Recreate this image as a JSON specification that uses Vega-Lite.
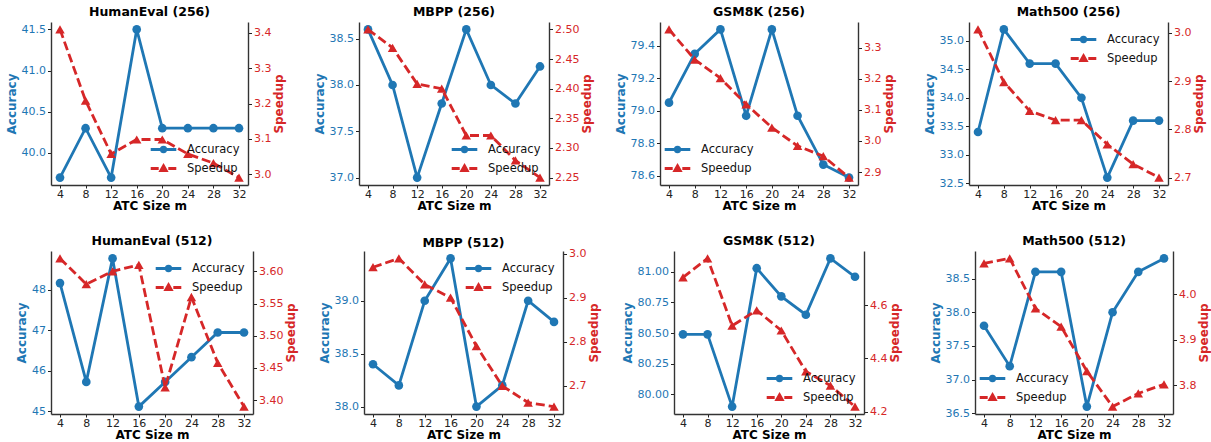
{
  "$schema": "https://vega.github.io/schema/vega-lite/v6.json",
  "padding": 5,
  "data": {"values": [
    {"p":"HumanEval (256)","m":4,"acc":39.7,"spd":3.41},
    {"p":"HumanEval (256)","m":8,"acc":40.3,"spd":3.208},
    {"p":"HumanEval (256)","m":12,"acc":39.7,"spd":3.057},
    {"p":"HumanEval (256)","m":16,"acc":41.5,"spd":3.098},
    {"p":"HumanEval (256)","m":20,"acc":40.3,"spd":3.098},
    {"p":"HumanEval (256)","m":24,"acc":40.3,"spd":3.057},
    {"p":"HumanEval (256)","m":28,"acc":40.3,"spd":3.031},
    {"p":"HumanEval (256)","m":32,"acc":40.3,"spd":2.99},
    {"p":"MBPP (256)","m":4,"acc":38.6,"spd":2.5},
    {"p":"MBPP (256)","m":8,"acc":38.0,"spd":2.469},
    {"p":"MBPP (256)","m":12,"acc":37.0,"spd":2.408},
    {"p":"MBPP (256)","m":16,"acc":37.8,"spd":2.4},
    {"p":"MBPP (256)","m":20,"acc":38.6,"spd":2.321},
    {"p":"MBPP (256)","m":24,"acc":38.0,"spd":2.321},
    {"p":"MBPP (256)","m":28,"acc":37.8,"spd":2.279},
    {"p":"MBPP (256)","m":32,"acc":38.2,"spd":2.25},
    {"p":"GSM8K (256)","m":4,"acc":79.05,"spd":3.359},
    {"p":"GSM8K (256)","m":8,"acc":79.35,"spd":3.262},
    {"p":"GSM8K (256)","m":12,"acc":79.5,"spd":3.202},
    {"p":"GSM8K (256)","m":16,"acc":78.97,"spd":3.118},
    {"p":"GSM8K (256)","m":20,"acc":79.5,"spd":3.043},
    {"p":"GSM8K (256)","m":24,"acc":78.97,"spd":2.984},
    {"p":"GSM8K (256)","m":28,"acc":78.67,"spd":2.951},
    {"p":"GSM8K (256)","m":32,"acc":78.59,"spd":2.882},
    {"p":"Math500 (256)","m":4,"acc":33.4,"spd":3.007},
    {"p":"Math500 (256)","m":8,"acc":35.2,"spd":2.898},
    {"p":"Math500 (256)","m":12,"acc":34.6,"spd":2.838},
    {"p":"Math500 (256)","m":16,"acc":34.6,"spd":2.819},
    {"p":"Math500 (256)","m":20,"acc":34.0,"spd":2.819},
    {"p":"Math500 (256)","m":24,"acc":32.6,"spd":2.769},
    {"p":"Math500 (256)","m":28,"acc":33.6,"spd":2.728},
    {"p":"Math500 (256)","m":32,"acc":33.6,"spd":2.7},
    {"p":"HumanEval (512)","m":4,"acc":48.17,"spd":3.62},
    {"p":"HumanEval (512)","m":8,"acc":45.73,"spd":3.58},
    {"p":"HumanEval (512)","m":12,"acc":48.78,"spd":3.6},
    {"p":"HumanEval (512)","m":16,"acc":45.12,"spd":3.61},
    {"p":"HumanEval (512)","m":20,"acc":45.73,"spd":3.42},
    {"p":"HumanEval (512)","m":24,"acc":46.34,"spd":3.56},
    {"p":"HumanEval (512)","m":28,"acc":46.95,"spd":3.458},
    {"p":"HumanEval (512)","m":32,"acc":46.95,"spd":3.39},
    {"p":"MBPP (512)","m":4,"acc":38.4,"spd":2.969},
    {"p":"MBPP (512)","m":8,"acc":38.2,"spd":2.989},
    {"p":"MBPP (512)","m":12,"acc":39.0,"spd":2.93},
    {"p":"MBPP (512)","m":16,"acc":39.4,"spd":2.9},
    {"p":"MBPP (512)","m":20,"acc":38.0,"spd":2.79},
    {"p":"MBPP (512)","m":24,"acc":38.2,"spd":2.7},
    {"p":"MBPP (512)","m":28,"acc":39.0,"spd":2.662},
    {"p":"MBPP (512)","m":32,"acc":38.8,"spd":2.653},
    {"p":"GSM8K (512)","m":4,"acc":80.49,"spd":4.705},
    {"p":"GSM8K (512)","m":8,"acc":80.49,"spd":4.776},
    {"p":"GSM8K (512)","m":12,"acc":79.9,"spd":4.523},
    {"p":"GSM8K (512)","m":16,"acc":81.03,"spd":4.581},
    {"p":"GSM8K (512)","m":20,"acc":80.8,"spd":4.505},
    {"p":"GSM8K (512)","m":24,"acc":80.65,"spd":4.351},
    {"p":"GSM8K (512)","m":28,"acc":81.11,"spd":4.298},
    {"p":"GSM8K (512)","m":32,"acc":80.96,"spd":4.219},
    {"p":"Math500 (512)","m":4,"acc":37.8,"spd":4.068},
    {"p":"Math500 (512)","m":8,"acc":37.2,"spd":4.079},
    {"p":"Math500 (512)","m":12,"acc":38.6,"spd":3.969},
    {"p":"Math500 (512)","m":16,"acc":38.6,"spd":3.929},
    {"p":"Math500 (512)","m":20,"acc":36.6,"spd":3.831},
    {"p":"Math500 (512)","m":24,"acc":38.0,"spd":3.753},
    {"p":"Math500 (512)","m":28,"acc":38.6,"spd":3.782},
    {"p":"Math500 (512)","m":32,"acc":38.8,"spd":3.802}
  ]},
  "spacing": 23,
  "resolve": {"scale": {"color": "independent"}, "legend": {"color": "independent"}},
  "vconcat": [
    {
      "hconcat": [
        {
          "title": "HumanEval (256)", "width": 197, "height": 163,
          "transform": [{"filter": "datum.p === 'HumanEval (256)'"}],
          "encoding": {"x": {"field": "m", "type": "quantitative", "scale": {"zero": false, "nice": false, "padding": 9}, "axis": {"values": [4,8,12,16,20,24,28,32], "title": "ATC Size m"}}},
          "layer": [
            {"mark": {"type": "line", "strokeWidth": 2.8, "point": {"filled": true, "size": 75, "opacity": 1}},
             "encoding": {
               "y": {"field": "acc", "type": "quantitative", "scale": {"zero": false, "nice": false, "padding": 7.4}, "axis": {"title": "Accuracy", "values": [40.0,40.5,41.0,41.5], "format": ".1f", "labelColor": "#1f77b4", "titleColor": "#1f77b4"}},
               "color": {"datum": "Accuracy", "type": "nominal", "scale": {"domain": ["Accuracy","Speedup"], "range": ["#1f77b4","#d62728"]},
                 "legend": {"orient": "bottom-right", "title": null, "encode": {"symbols": {"update": {"shape": {"signal": "datum.value === 'Accuracy' ? 'M-1.6,0H1.6M0.28,0A0.28,0.28 0 1,1 -0.28,0A0.28,0.28 0 1,1 0.28,0Z' : 'M-1.6,0H-0.6M-0.2,0H0.2M0.6,0H1.6M0,-0.34L0.34,0.26L-0.34,0.26Z'"}, "fill": {"signal": "datum.value === 'Accuracy' ? '#1f77b4' : '#d62728'"}, "stroke": {"signal": "datum.value === 'Accuracy' ? '#1f77b4' : '#d62728'"}, "strokeWidth": {"value": 2.8}, "size": {"value": 256}, "opacity": {"value": 1}}}}}}
             }},
            {"mark": {"type": "line", "strokeWidth": 2.8, "strokeDash": [9,4], "color": "#d62728", "point": {"filled": true, "shape": "triangle-up", "size": 90, "color": "#d62728", "opacity": 1}},
             "encoding": {
               "y": {"field": "spd", "type": "quantitative", "scale": {"zero": false, "nice": false, "padding": 7.4}, "axis": {"orient": "right", "title": "Speedup", "values": [3.0,3.1,3.2,3.3,3.4], "format": ".1f", "labelColor": "#d62728", "titleColor": "#d62728"}}
             }}
          ],
          "resolve": {"scale": {"y": "independent"}}
        },
        {
          "title": "MBPP (256)", "width": 190, "height": 163,
          "transform": [{"filter": "datum.p === 'MBPP (256)'"}],
          "encoding": {"x": {"field": "m", "type": "quantitative", "scale": {"zero": false, "nice": false, "padding": 9}, "axis": {"values": [4,8,12,16,20,24,28,32], "title": "ATC Size m"}}},
          "layer": [
            {"mark": {"type": "line", "strokeWidth": 2.8, "point": {"filled": true, "size": 75, "opacity": 1}},
             "encoding": {
               "y": {"field": "acc", "type": "quantitative", "scale": {"zero": false, "nice": false, "padding": 7.4}, "axis": {"title": "Accuracy", "values": [37.0,37.5,38.0,38.5], "format": ".1f", "labelColor": "#1f77b4", "titleColor": "#1f77b4"}},
               "color": {"datum": "Accuracy", "type": "nominal", "scale": {"domain": ["Accuracy","Speedup"], "range": ["#1f77b4","#d62728"]},
                 "legend": {"orient": "bottom-right", "title": null, "encode": {"symbols": {"update": {"shape": {"signal": "datum.value === 'Accuracy' ? 'M-1.6,0H1.6M0.28,0A0.28,0.28 0 1,1 -0.28,0A0.28,0.28 0 1,1 0.28,0Z' : 'M-1.6,0H-0.6M-0.2,0H0.2M0.6,0H1.6M0,-0.34L0.34,0.26L-0.34,0.26Z'"}, "fill": {"signal": "datum.value === 'Accuracy' ? '#1f77b4' : '#d62728'"}, "stroke": {"signal": "datum.value === 'Accuracy' ? '#1f77b4' : '#d62728'"}, "strokeWidth": {"value": 2.8}, "size": {"value": 256}, "opacity": {"value": 1}}}}}}
             }},
            {"mark": {"type": "line", "strokeWidth": 2.8, "strokeDash": [9,4], "color": "#d62728", "point": {"filled": true, "shape": "triangle-up", "size": 90, "color": "#d62728", "opacity": 1}},
             "encoding": {
               "y": {"field": "spd", "type": "quantitative", "scale": {"zero": false, "nice": false, "padding": 7.4}, "axis": {"orient": "right", "title": "Speedup", "values": [2.25,2.3,2.35,2.4,2.45,2.5], "format": ".2f", "labelColor": "#d62728", "titleColor": "#d62728"}}
             }}
          ],
          "resolve": {"scale": {"y": "independent"}}
        },
        {
          "title": "GSM8K (256)", "width": 198, "height": 163,
          "transform": [{"filter": "datum.p === 'GSM8K (256)'"}],
          "encoding": {"x": {"field": "m", "type": "quantitative", "scale": {"zero": false, "nice": false, "padding": 9}, "axis": {"values": [4,8,12,16,20,24,28,32], "title": "ATC Size m"}}},
          "layer": [
            {"mark": {"type": "line", "strokeWidth": 2.8, "point": {"filled": true, "size": 75, "opacity": 1}},
             "encoding": {
               "y": {"field": "acc", "type": "quantitative", "scale": {"zero": false, "nice": false, "padding": 7.4}, "axis": {"title": "Accuracy", "values": [78.6,78.8,79.0,79.2,79.4], "format": ".1f", "labelColor": "#1f77b4", "titleColor": "#1f77b4"}},
               "color": {"datum": "Accuracy", "type": "nominal", "scale": {"domain": ["Accuracy","Speedup"], "range": ["#1f77b4","#d62728"]},
                 "legend": {"orient": "bottom-left", "title": null, "encode": {"symbols": {"update": {"shape": {"signal": "datum.value === 'Accuracy' ? 'M-1.6,0H1.6M0.28,0A0.28,0.28 0 1,1 -0.28,0A0.28,0.28 0 1,1 0.28,0Z' : 'M-1.6,0H-0.6M-0.2,0H0.2M0.6,0H1.6M0,-0.34L0.34,0.26L-0.34,0.26Z'"}, "fill": {"signal": "datum.value === 'Accuracy' ? '#1f77b4' : '#d62728'"}, "stroke": {"signal": "datum.value === 'Accuracy' ? '#1f77b4' : '#d62728'"}, "strokeWidth": {"value": 2.8}, "size": {"value": 256}, "opacity": {"value": 1}}}}}}
             }},
            {"mark": {"type": "line", "strokeWidth": 2.8, "strokeDash": [9,4], "color": "#d62728", "point": {"filled": true, "shape": "triangle-up", "size": 90, "color": "#d62728", "opacity": 1}},
             "encoding": {
               "y": {"field": "spd", "type": "quantitative", "scale": {"zero": false, "nice": false, "padding": 7.4}, "axis": {"orient": "right", "title": "Speedup", "values": [2.9,3.0,3.1,3.2,3.3], "format": ".1f", "labelColor": "#d62728", "titleColor": "#d62728"}}
             }}
          ],
          "resolve": {"scale": {"y": "independent"}}
        },
        {
          "title": "Math500 (256)", "width": 199, "height": 163,
          "transform": [{"filter": "datum.p === 'Math500 (256)'"}],
          "encoding": {"x": {"field": "m", "type": "quantitative", "scale": {"zero": false, "nice": false, "padding": 9}, "axis": {"values": [4,8,12,16,20,24,28,32], "title": "ATC Size m"}}},
          "layer": [
            {"mark": {"type": "line", "strokeWidth": 2.8, "point": {"filled": true, "size": 75, "opacity": 1}},
             "encoding": {
               "y": {"field": "acc", "type": "quantitative", "scale": {"zero": false, "nice": false, "padding": 7.4}, "axis": {"title": "Accuracy", "values": [32.5,33.0,33.5,34.0,34.5,35.0], "format": ".1f", "labelColor": "#1f77b4", "titleColor": "#1f77b4"}},
               "color": {"datum": "Accuracy", "type": "nominal", "scale": {"domain": ["Accuracy","Speedup"], "range": ["#1f77b4","#d62728"]},
                 "legend": {"orient": "top-right", "title": null, "encode": {"symbols": {"update": {"shape": {"signal": "datum.value === 'Accuracy' ? 'M-1.6,0H1.6M0.28,0A0.28,0.28 0 1,1 -0.28,0A0.28,0.28 0 1,1 0.28,0Z' : 'M-1.6,0H-0.6M-0.2,0H0.2M0.6,0H1.6M0,-0.34L0.34,0.26L-0.34,0.26Z'"}, "fill": {"signal": "datum.value === 'Accuracy' ? '#1f77b4' : '#d62728'"}, "stroke": {"signal": "datum.value === 'Accuracy' ? '#1f77b4' : '#d62728'"}, "strokeWidth": {"value": 2.8}, "size": {"value": 256}, "opacity": {"value": 1}}}}}}
             }},
            {"mark": {"type": "line", "strokeWidth": 2.8, "strokeDash": [9,4], "color": "#d62728", "point": {"filled": true, "shape": "triangle-up", "size": 90, "color": "#d62728", "opacity": 1}},
             "encoding": {
               "y": {"field": "spd", "type": "quantitative", "scale": {"zero": false, "nice": false, "padding": 7.4}, "axis": {"orient": "right", "title": "Speedup", "values": [2.7,2.8,2.9,3.0], "format": ".1f", "labelColor": "#d62728", "titleColor": "#d62728"}}
             }}
          ],
          "resolve": {"scale": {"y": "independent"}}
        }
      ],
      "spacing": 111,
      "bounds": "flush",
      "resolve": {"scale": {"color": "independent"}, "legend": {"color": "independent"}}
    },
    {
      "hconcat": [
        {
          "title": "HumanEval (512)", "width": 202, "height": 163,
          "transform": [{"filter": "datum.p === 'HumanEval (512)'"}],
          "encoding": {"x": {"field": "m", "type": "quantitative", "scale": {"zero": false, "nice": false, "padding": 9}, "axis": {"values": [4,8,12,16,20,24,28,32], "title": "ATC Size m"}}},
          "layer": [
            {"mark": {"type": "line", "strokeWidth": 2.8, "point": {"filled": true, "size": 75, "opacity": 1}},
             "encoding": {
               "y": {"field": "acc", "type": "quantitative", "scale": {"zero": false, "nice": false, "padding": 7.4}, "axis": {"title": "Accuracy", "values": [45,46,47,48], "format": "d", "labelColor": "#1f77b4", "titleColor": "#1f77b4"}},
               "color": {"datum": "Accuracy", "type": "nominal", "scale": {"domain": ["Accuracy","Speedup"], "range": ["#1f77b4","#d62728"]},
                 "legend": {"orient": "top-right", "title": null, "encode": {"symbols": {"update": {"shape": {"signal": "datum.value === 'Accuracy' ? 'M-1.6,0H1.6M0.28,0A0.28,0.28 0 1,1 -0.28,0A0.28,0.28 0 1,1 0.28,0Z' : 'M-1.6,0H-0.6M-0.2,0H0.2M0.6,0H1.6M0,-0.34L0.34,0.26L-0.34,0.26Z'"}, "fill": {"signal": "datum.value === 'Accuracy' ? '#1f77b4' : '#d62728'"}, "stroke": {"signal": "datum.value === 'Accuracy' ? '#1f77b4' : '#d62728'"}, "strokeWidth": {"value": 2.8}, "size": {"value": 256}, "opacity": {"value": 1}}}}}}
             }},
            {"mark": {"type": "line", "strokeWidth": 2.8, "strokeDash": [9,4], "color": "#d62728", "point": {"filled": true, "shape": "triangle-up", "size": 90, "color": "#d62728", "opacity": 1}},
             "encoding": {
               "y": {"field": "spd", "type": "quantitative", "scale": {"zero": false, "nice": false, "padding": 7.4}, "axis": {"orient": "right", "title": "Speedup", "values": [3.4,3.45,3.5,3.55,3.6], "format": ".2f", "labelColor": "#d62728", "titleColor": "#d62728"}}
             }}
          ],
          "resolve": {"scale": {"y": "independent"}}
        },
        {
          "title": {"text": "MBPP (512)", "offset": -2}, "width": 199, "height": 163,
          "transform": [{"filter": "datum.p === 'MBPP (512)'"}],
          "encoding": {"x": {"field": "m", "type": "quantitative", "scale": {"zero": false, "nice": false, "padding": 9}, "axis": {"values": [4,8,12,16,20,24,28,32], "title": "ATC Size m"}}},
          "layer": [
            {"mark": {"type": "line", "strokeWidth": 2.8, "point": {"filled": true, "size": 75, "opacity": 1}},
             "encoding": {
               "y": {"field": "acc", "type": "quantitative", "scale": {"zero": false, "nice": false, "padding": 7.4}, "axis": {"title": "Accuracy", "values": [38.0,38.5,39.0], "format": ".1f", "labelColor": "#1f77b4", "titleColor": "#1f77b4"}},
               "color": {"datum": "Accuracy", "type": "nominal", "scale": {"domain": ["Accuracy","Speedup"], "range": ["#1f77b4","#d62728"]},
                 "legend": {"orient": "top-right", "title": null, "encode": {"symbols": {"update": {"shape": {"signal": "datum.value === 'Accuracy' ? 'M-1.6,0H1.6M0.28,0A0.28,0.28 0 1,1 -0.28,0A0.28,0.28 0 1,1 0.28,0Z' : 'M-1.6,0H-0.6M-0.2,0H0.2M0.6,0H1.6M0,-0.34L0.34,0.26L-0.34,0.26Z'"}, "fill": {"signal": "datum.value === 'Accuracy' ? '#1f77b4' : '#d62728'"}, "stroke": {"signal": "datum.value === 'Accuracy' ? '#1f77b4' : '#d62728'"}, "strokeWidth": {"value": 2.8}, "size": {"value": 256}, "opacity": {"value": 1}}}}}}
             }},
            {"mark": {"type": "line", "strokeWidth": 2.8, "strokeDash": [9,4], "color": "#d62728", "point": {"filled": true, "shape": "triangle-up", "size": 90, "color": "#d62728", "opacity": 1}},
             "encoding": {
               "y": {"field": "spd", "type": "quantitative", "scale": {"zero": false, "nice": false, "padding": 7.4}, "axis": {"orient": "right", "title": "Speedup", "values": [2.7,2.8,2.9,3.0], "format": ".1f", "labelColor": "#d62728", "titleColor": "#d62728"}}
             }}
          ],
          "resolve": {"scale": {"y": "independent"}}
        },
        {
          "title": "GSM8K (512)", "width": 190, "height": 163,
          "transform": [{"filter": "datum.p === 'GSM8K (512)'"}],
          "encoding": {"x": {"field": "m", "type": "quantitative", "scale": {"zero": false, "nice": false, "padding": 9}, "axis": {"values": [4,8,12,16,20,24,28,32], "title": "ATC Size m"}}},
          "layer": [
            {"mark": {"type": "line", "strokeWidth": 2.8, "point": {"filled": true, "size": 75, "opacity": 1}},
             "encoding": {
               "y": {"field": "acc", "type": "quantitative", "scale": {"zero": false, "nice": false, "padding": 7.4}, "axis": {"title": "Accuracy", "values": [80.0,80.25,80.5,80.75,81.0], "format": ".2f", "labelColor": "#1f77b4", "titleColor": "#1f77b4"}},
               "color": {"datum": "Accuracy", "type": "nominal", "scale": {"domain": ["Accuracy","Speedup"], "range": ["#1f77b4","#d62728"]},
                 "legend": {"orient": "bottom-right", "title": null, "encode": {"symbols": {"update": {"shape": {"signal": "datum.value === 'Accuracy' ? 'M-1.6,0H1.6M0.28,0A0.28,0.28 0 1,1 -0.28,0A0.28,0.28 0 1,1 0.28,0Z' : 'M-1.6,0H-0.6M-0.2,0H0.2M0.6,0H1.6M0,-0.34L0.34,0.26L-0.34,0.26Z'"}, "fill": {"signal": "datum.value === 'Accuracy' ? '#1f77b4' : '#d62728'"}, "stroke": {"signal": "datum.value === 'Accuracy' ? '#1f77b4' : '#d62728'"}, "strokeWidth": {"value": 2.8}, "size": {"value": 256}, "opacity": {"value": 1}}}}}}
             }},
            {"mark": {"type": "line", "strokeWidth": 2.8, "strokeDash": [9,4], "color": "#d62728", "point": {"filled": true, "shape": "triangle-up", "size": 90, "color": "#d62728", "opacity": 1}},
             "encoding": {
               "y": {"field": "spd", "type": "quantitative", "scale": {"zero": false, "nice": false, "padding": 7.4}, "axis": {"orient": "right", "title": "Speedup", "values": [4.2,4.4,4.6], "format": ".1f", "labelColor": "#d62728", "titleColor": "#d62728"}}
             }}
          ],
          "resolve": {"scale": {"y": "independent"}}
        },
        {
          "title": "Math500 (512)", "width": 198, "height": 163,
          "transform": [{"filter": "datum.p === 'Math500 (512)'"}],
          "encoding": {"x": {"field": "m", "type": "quantitative", "scale": {"zero": false, "nice": false, "padding": 9}, "axis": {"values": [4,8,12,16,20,24,28,32], "title": "ATC Size m"}}},
          "layer": [
            {"mark": {"type": "line", "strokeWidth": 2.8, "point": {"filled": true, "size": 75, "opacity": 1}},
             "encoding": {
               "y": {"field": "acc", "type": "quantitative", "scale": {"zero": false, "nice": false, "padding": 7.4}, "axis": {"title": "Accuracy", "values": [36.5,37.0,37.5,38.0,38.5], "format": ".1f", "labelColor": "#1f77b4", "titleColor": "#1f77b4"}},
               "color": {"datum": "Accuracy", "type": "nominal", "scale": {"domain": ["Accuracy","Speedup"], "range": ["#1f77b4","#d62728"]},
                 "legend": {"orient": "bottom-left", "title": null, "encode": {"symbols": {"update": {"shape": {"signal": "datum.value === 'Accuracy' ? 'M-1.6,0H1.6M0.28,0A0.28,0.28 0 1,1 -0.28,0A0.28,0.28 0 1,1 0.28,0Z' : 'M-1.6,0H-0.6M-0.2,0H0.2M0.6,0H1.6M0,-0.34L0.34,0.26L-0.34,0.26Z'"}, "fill": {"signal": "datum.value === 'Accuracy' ? '#1f77b4' : '#d62728'"}, "stroke": {"signal": "datum.value === 'Accuracy' ? '#1f77b4' : '#d62728'"}, "strokeWidth": {"value": 2.8}, "size": {"value": 256}, "opacity": {"value": 1}}}}}}
             }},
            {"mark": {"type": "line", "strokeWidth": 2.8, "strokeDash": [9,4], "color": "#d62728", "point": {"filled": true, "shape": "triangle-up", "size": 90, "color": "#d62728", "opacity": 1}},
             "encoding": {
               "y": {"field": "spd", "type": "quantitative", "scale": {"zero": false, "nice": false, "padding": 7.4}, "axis": {"orient": "right", "title": "Speedup", "values": [3.8,3.9,4.0], "format": ".1f", "labelColor": "#d62728", "titleColor": "#d62728"}}
             }}
          ],
          "resolve": {"scale": {"y": "independent"}}
        }
      ],
      "spacing": 111,
      "bounds": "flush",
      "resolve": {"scale": {"color": "independent"}, "legend": {"color": "independent"}}
    }
  ],
  "config": {
    "font": "DejaVu Sans",
    "background": "white",
    "view": {"stroke": null},
    "title": {"fontSize": 12.5, "fontWeight": "bold", "color": "#000", "offset": 4, "frame": "group"},
    "axis": {"grid": false, "domainColor": "#333", "domainWidth": 1.4, "tickColor": "#222", "tickSize": 3.5, "tickWidth": 1, "labelFontSize": 11, "labelColor": "#222", "titleFontSize": 12, "titleFontWeight": "bold", "titleColor": "#000", "labelPadding": 2, "titlePadding": 3, "labelFlush": false, "labelOverlap": false},
    "axisBottom": {"tickSize": 3, "labelPadding": 0, "titlePadding": 1},
    "axisRight": {"titleAngle": 270, "titleBaseline": "top"},
    "legend": {"offset": 8, "padding": 0, "rowPadding": 1, "symbolSize": 256, "labelOffset": 14, "labelFontSize": 11.5, "labelColor": "#111", "symbolStrokeWidth": 2.8}
  }
}
